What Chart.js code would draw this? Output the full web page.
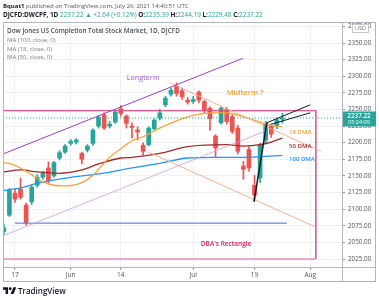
<!DOCTYPE html>
<html>
<head>
<meta charset="utf-8">
<script src="https://cdn.jsdelivr.net/npm/chart.js@4.4.0/dist/chart.umd.min.js"></script>
<style>
  html, body { margin: 0; padding: 0; background: #fff; }
  body { width: 379px; height: 300px; position: relative; overflow: hidden; font-family: 'Open Sans', sans-serif; }
  #chart { position: absolute; left: 0; top: 0; }
  .line { position: absolute; left: 3px; white-space: nowrap; line-height: 8px; }
  .hdr { font-size: 6px; color: #50535e; }
  .hdr2 { font-size: 6.4px; }
  .b { font-weight: 700; color: #131722; }
  .up { color: #26a69a; }
  .leg { left: 7px; font-size: 6px; color: #787b86; }
  .leg.title { color: #4a4d57; font-weight: 600; font-size: 6.4px; }
  #foot { position: absolute; left: 3px; top: 285px; display: flex; align-items: center; gap: 2px; font-size: 8px; font-weight: 600; color: #131722; }
</style>
</head>
<body>
<canvas id="chart" width="379" height="300"></canvas>

<div class="line hdr" style="top:2px"><span class="b">Bquat1</span> published on TradingView.com, July 26, 2021 14:40:51 UTC</div>
<div class="line hdr hdr2" style="top:11px"><span class="b">DJCFD:DWCPF, 1D</span> <span class="up">2237.22 ▲ +2.64 (+0.12%)</span> <span class="b">O:</span><span class="up">2235.39</span> <span class="b">H:</span><span class="up">2244.19</span> <span class="b">L:</span><span class="up">2229.48</span> <span class="b">C:</span><span class="up">2237.22</span></div>

<div class="line leg title" style="top:27px">Dow Jones US Completion Total Stock Market, 1D, DJCFD</div>
<div class="line leg" style="top:36px">MA (100, close, 0)</div>
<div class="line leg" style="top:45px">MA (18, close, 0)</div>
<div class="line leg" style="top:53px">MA (50, close, 0)</div>

<div id="foot">
  <svg width="13" height="9" viewBox="0 0 36 24"><path d="M14 22H7V10H0V3h14v19zM29 22h-8l8-19h8z" fill="#131722"/><circle cx="20" cy="7" r="4" fill="#131722"/></svg>
  <span>TradingView</span>
</div>

<script>
// daily candles, May 13 .. Jul 26 2021 (one entry per trading day)
const openP  = [2066, 2091, 2124, 2130, 2106, 2111, 2136, 2148, 2162, 2150, 2177, 2186, 2199, 2201, 2184, 2189, 2199, 2225, 2242, 2225, 2231, 2251, 2240, 2225, 2219, 2196, 2197, 2221, 2237, 2257, 2273, 2285, 2278, 2264, 2262, 2276, 2262, 2252, 2210, 2230, 2250, 2239, 2222, 2165, 2190, 2136, 2147, 2204, 2226, 2225, 2235.39];
const highP  = [2078, 2131, 2130, 2147, 2109, 2136, 2152, 2157, 2171, 2172, 2188, 2197, 2205, 2206, 2186, 2197, 2221, 2241, 2245, 2232, 2249, 2256, 2242, 2230, 2224, 2200, 2224, 2236, 2250, 2270, 2282, 2290, 2282, 2268, 2270, 2278, 2264, 2254, 2212, 2254, 2253, 2242, 2226, 2172, 2194, 2151, 2199, 2232, 2229, 2237, 2244.19];
const lowP   = [2062, 2089, 2110, 2115, 2076, 2107, 2133, 2145, 2140, 2148, 2174, 2184, 2196, 2198, 2168, 2186, 2196, 2222, 2220, 2222, 2229, 2240, 2222, 2207, 2204, 2181, 2195, 2219, 2234, 2254, 2270, 2270, 2265, 2258, 2259, 2260, 2244, 2219, 2179, 2228, 2228, 2214, 2183, 2145, 2157, 2113, 2140, 2200, 2208, 2221, 2229.48];
const closeP = [2072, 2128, 2115, 2118, 2080, 2133, 2148, 2154, 2143, 2170, 2185, 2195, 2202, 2204, 2175, 2195, 2219, 2238, 2222, 2228, 2246, 2244, 2229, 2223, 2216, 2187, 2222, 2234, 2245, 2267, 2279, 2274, 2269, 2261, 2265, 2264, 2249, 2236, 2192, 2252, 2232, 2217, 2187, 2160, 2162, 2121, 2197, 2229, 2213, 2234.58, 2237.22];
const lastPrice = 2237.22;

// moving averages (bar index -> value)
const ma18Idx  = [0, 1, 3, 5, 7, 9, 11, 14, 16, 17, 19, 21, 23, 25, 28, 31, 34, 37, 40, 43, 46, 48, 50];
const ma18Val  = [2170, 2169, 2162, 2152, 2141, 2136, 2135, 2140, 2151, 2160, 2178, 2191, 2203, 2209, 2222, 2233, 2241, 2245, 2245, 2239, 2231, 2226, 2224];
const ma50Idx  = [0, 3, 6, 10, 14, 17, 21, 23, 28, 33, 40, 43, 46, 48, 50];
const ma50Val  = [2156, 2159, 2156, 2154, 2159, 2168, 2177, 2178, 2184, 2194, 2197, 2195, 2197, 2201, 2207];
const ma100Idx = [0, 3, 6, 12, 17, 23, 28, 33, 38, 43, 50];
const ma100Val = [2128, 2132, 2139, 2148, 2153, 2162, 2169, 2177, 2178, 2178, 2181];

// time axis labels (bar index -> text)
const tickIdx  = [2, 12, 21, 34, 45, 55];
const tickText = ['17', 'Jun', '14', 'Jul', '19', 'Aug'];
const priceTicks = [2025, 2050, 2075, 2100, 2125, 2150, 2175, 2200, 2225, 2250, 2275, 2300, 2325, 2350, 2375];

// hand drawn lines: [index, price] end points
const longtermTop = [[-0.15, 2183], [42.9, 2327]];
const longtermLow = [[-0.15, 2060], [47.1, 2218]];
const midtermTop  = [[29.8, 2290], [56.9, 2187]];
const midtermLow  = [[25.9, 2186], [56.0, 2073]];
const shortTop    = [[47.2, 2230], [55.0, 2257]];
const shortLow    = [[48.1, 2228], [55.0, 2245]];
const shortRise   = [[44.9, 2111], [47.2, 2230]];
const supportLine = [[2, 2079], [50.8, 2079]];
const rectangle   = [[-1, 2248.4], [56.0, 2248.4], [56.0, 2025], [-1, 2025]];

const UP = '#26a69a', DOWN = '#ef5350';

const bars = openP.map((_, i) => i);
const candleColors = bars.map(i => closeP[i] >= openP[i] ? UP : DOWN);
const pts = arr => arr.map(p => ({ x: p[0], y: p[1] }));
const series = (xs, ys) => xs.map((x, i) => ({ x: x, y: ys[i] }));

function drawing(points, color, width, order, dash) {
    return {
        type: 'line', data: pts(points), borderColor: color, borderWidth: width,
        borderDash: dash || [], pointRadius: 0, tension: 0, order: order
    };
}
function movingAvg(xs, ys, color) {
    return {
        type: 'line', data: series(xs, ys), borderColor: color, borderWidth: 1.3,
        pointRadius: 0, cubicInterpolationMode: 'monotone', order: 2
    };
}

const notes = [
    { text: 'Longterm', at: [25.0, 2297], color: '#b478d6', align: 'center', font: '600 7px "Open Sans"' },
    { text: 'Midterm ?', at: [43.3, 2275], color: '#f2a33a', align: 'center', font: '600 7.5px "Open Sans"' },
    { text: '18 DMA', at: [51.2, 2216], color: '#f2a33a', align: 'left', font: '600 6px "Open Sans"' },
    { text: '50 DMA', at: [51.2, 2195], color: '#a3282c', align: 'left', font: '600 6px "Open Sans"' },
    { text: '100 DMA', at: [51.2, 2175.5], color: '#2196f3', align: 'left', font: '600 6px "Open Sans"' },
    { text: "DBA's Rectangle", at: [39.9, 2047.6], color: '#d81b60', align: 'center', font: '600 6.5px "Open Sans"' }
];

const overlay = {
    id: 'overlay',
    afterDatasetsDraw(chart) {
        const { ctx, scales: { x, y } } = chart;
        ctx.save();
        ctx.textBaseline = 'middle';
        notes.forEach(n => {
            ctx.font = n.font;
            ctx.fillStyle = n.color;
            ctx.textAlign = n.align;
            ctx.fillText(n.text, x.getPixelForValue(n.at[0]), y.getPixelForValue(n.at[1]));
        });
        ctx.restore();
    },
    afterDraw(chart) {
        const { ctx, chartArea: a, scales: { y } } = chart;
        ctx.save();
        // frame
        ctx.strokeStyle = '#b2b5be';
        ctx.lineWidth = 1;
        ctx.strokeRect(a.left + 0.5, a.top + 0.5, 372, 259);
        ctx.beginPath();
        ctx.moveTo(a.right + 0.5, a.top); ctx.lineTo(a.right + 0.5, 281);
        ctx.moveTo(a.left, a.bottom + 0.5); ctx.lineTo(375, a.bottom + 0.5);
        ctx.stroke();
        // USD badge
        ctx.fillStyle = '#fff';
        ctx.strokeStyle = '#c5c8d0';
        ctx.fillRect(352, 24.5, 17, 8.5);
        ctx.strokeRect(352.5, 24.5, 16, 8);
        ctx.fillStyle = '#787b86';
        ctx.font = '5.5px "Open Sans"';
        ctx.textAlign = 'center';
        ctx.textBaseline = 'middle';
        ctx.fillText('USD', 360.5, 28.8);
        // last price badge
        const py = y.getPixelForValue(lastPrice);
        ctx.fillStyle = UP;
        ctx.fillRect(a.right + 1, py - 6.5, 33, 15);
        ctx.fillStyle = '#fff';
        ctx.font = '600 6.3px "Open Sans"';
        ctx.fillText(lastPrice.toFixed(2), 359, py - 2);
        ctx.font = '5.5px "Open Sans"';
        ctx.fillText('05:24:09', 359, py + 4.8);
        ctx.restore();
    }
};

new Chart(document.getElementById('chart').getContext('2d'), {
    type: 'bar',
    data: {
        datasets: [
            drawing(shortTop, '#131722', 1, 0),
            drawing(shortLow, '#131722', 1, 0),
            drawing(shortRise, '#131722', 1.5, 0),
            drawing(longtermTop, '#9c3fc0', 1, 1),
            drawing(longtermLow, '#cf9ae0', 0.8, 1),
            drawing(midtermTop, '#f2a987', 0.9, 1),
            drawing(midtermLow, '#f2a987', 0.9, 1),
            drawing(supportLine, '#3f6fd8', 1, 1),
            drawing(rectangle, '#d6609a', 1, 1),
            drawing([[-1, 2248.4], [56.0, 2248.4]], '#a8336f', 1.2, 1),
            drawing([[-0.15, lastPrice], [60.7, lastPrice]], UP, 1, 1, [1, 2]),
            movingAvg(ma18Idx, ma18Val, '#f5a53a'),
            movingAvg(ma50Idx, ma50Val, '#9e2a2b'),
            movingAvg(ma100Idx, ma100Val, '#2196f3'),
            {
                data: bars.map(i => ({ x: i, y: [openP[i], closeP[i]] })),
                backgroundColor: candleColors, barThickness: 4, grouped: false,
                borderWidth: 0, borderSkipped: false, order: 3
            },
            {
                data: bars.map(i => ({ x: i, y: [lowP[i], highP[i]] })),
                backgroundColor: candleColors, barThickness: 1, grouped: false,
                borderWidth: 0, borderSkipped: false, order: 4
            }
        ]
    },
    options: {
        animation: false,
        responsive: false,
        layout: { padding: { left: 3, top: 22, right: 4, bottom: 19 } },
        plugins: { legend: { display: false }, tooltip: { enabled: false } },
        scales: {
            x: {
                type: 'linear', min: -0.15, max: 60.7, offset: false,
                afterBuildTicks: s => { s.ticks = tickIdx.map(v => ({ value: v })); },
                afterFit: s => { s.height = 14; },
                ticks: {
                    autoSkip: false, maxRotation: 0, padding: 1,
                    callback: (v, i) => tickText[i],
                    font: { family: 'Open Sans', size: 6.5 }, color: '#50535e'
                },
                grid: { offset: false, color: '#eef0f4', tickColor: '#9598a1', tickLength: 3 },
                border: { display: false }
            },
            y: {
                position: 'right', min: 2013, max: 2381.6,
                afterBuildTicks: s => { s.ticks = priceTicks.map(v => ({ value: v })); },
                afterFit: s => { s.width = 33; },
                ticks: {
                    padding: 3,
                    callback: v => v.toFixed(2),
                    font: { family: 'Open Sans', size: 6.3 }, color: '#50535e'
                },
                grid: { color: '#eef0f4', tickColor: '#9598a1', tickLength: 3 },
                border: { display: false }
            }
        }
    },
    plugins: [overlay]
});
</script>
</body>
</html>
